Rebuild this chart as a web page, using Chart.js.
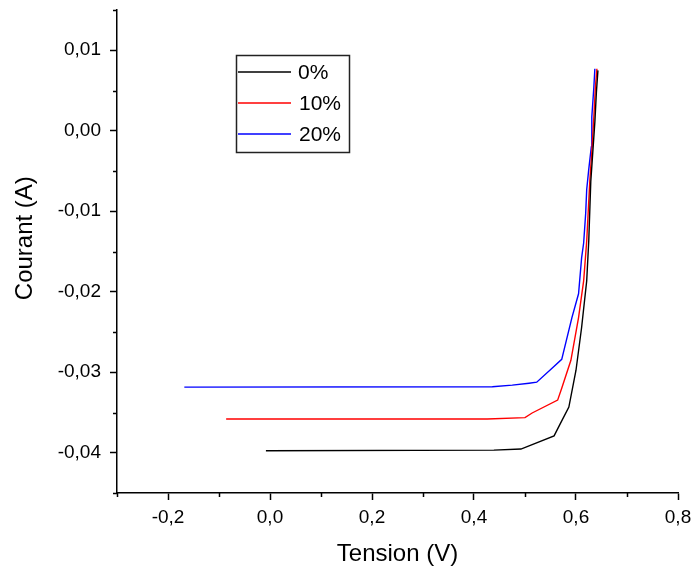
<!DOCTYPE html>
<html>
<head>
<meta charset="utf-8">
<script src="https://cdn.jsdelivr.net/npm/chart.js@4.4.0/dist/chart.umd.min.js"></script>
<style>
  html, body { margin: 0; padding: 0; background: #fff; }
  #wrap { width: 691px; height: 571px; }
</style>
</head>
<body>
<div id="wrap"><canvas id="myChart" width="691" height="571"></canvas></div>
<script>
// I-V curves, voltage (V) / current (A)
const labels = ['0%', '10%', '20%'];
const colors = ['#000000', '#ff0000', '#0000ff'];

const v0 = [-0.008, 0.439, 0.492, 0.557, 0.568, 0.586, 0.600, 0.611, 0.621, 0.625, 0.629, 0.633, 0.637, 0.640, 0.643];
const i0 = [-0.03975, -0.03967, -0.03954, -0.0379, -0.03654, -0.03432, -0.02975, -0.02444, -0.01864, -0.0137, -0.0063, -0.0026, 0.0011, 0.0048, 0.0075];

const v10 = [-0.086, 0.426, 0.500, 0.514, 0.564, 0.572, 0.590, 0.605, 0.615, 0.621, 0.627, 0.631, 0.635, 0.638, 0.641];
const i10 = [-0.0358, -0.0358, -0.03564, -0.03506, -0.03346, -0.03198, -0.02852, -0.02321, -0.01864, -0.0137, -0.0063, -0.0026, 0.0017, 0.0054, 0.0077];

const v20 = [-0.168, 0.436, 0.475, 0.508, 0.523, 0.553, 0.572, 0.592, 0.605, 0.611, 0.615, 0.619, 0.621, 0.625, 0.630, 0.631, 0.635, 0.637];
const i20 = [-0.03185, -0.03181, -0.0316, -0.03136, -0.03123, -0.0295, -0.0284, -0.02321, -0.02025, -0.0158, -0.01395, -0.01025, -0.0073, -0.0048, -0.002, 0.0017, 0.0054, 0.0077];

const xTicks = [-0.2, 0.0, 0.2, 0.4, 0.6, 0.8];
const xTickLabels = ['-0,2', '0,0', '0,2', '0,4', '0,6', '0,8'];
const yTicks = [-0.04, -0.03, -0.02, -0.01, 0.00, 0.01];
const yTickLabels = ['-0,04', '-0,03', '-0,02', '-0,01', '0,00', '0,01'];

function toPoints(xs, ys) {
  return xs.map((x, k) => ({x: x, y: ys[k]}));
}

const series = [toPoints(v0, i0), toPoints(v10, i10), toPoints(v20, i20)];

// minor ticks + legend box
const extras = {
  id: 'extras',
  afterDraw(chart) {
    const ctx = chart.ctx;
    const xs = chart.scales.x, ys = chart.scales.y;
    const a = chart.chartArea;
    ctx.save();
    ctx.strokeStyle = '#000';
    ctx.lineWidth = 1.5;
    ctx.beginPath();
    for (let k = -3; k <= 8; k++) {
      if (k % 2 === 0) continue;
      const px = Math.round(xs.getPixelForValue(k / 10)) + 0.5;
      ctx.moveTo(px, a.bottom);
      ctx.lineTo(px, a.bottom + 4);
    }
    for (let k = -9; k <= 3; k++) {
      if (k % 2 === 0) continue;
      const py = Math.round(ys.getPixelForValue(k * 0.005)) + 0.5;
      ctx.moveTo(a.left, py);
      ctx.lineTo(a.left - 4, py);
    }
    ctx.stroke();

    // legend
    const lx = 236, ly = 55, lw = 113, lh = 97;
    ctx.lineWidth = 1.5;
    ctx.strokeStyle = '#222';
    ctx.strokeRect(lx + 0.5, ly + 0.5, lw, lh);
    ctx.font = '21px "Liberation Sans", Arial, sans-serif';
    ctx.textBaseline = 'middle';
    chart.data.datasets.forEach((ds, k) => {
      const yy = 72 + k * 31;
      ctx.strokeStyle = ds.borderColor;
      ctx.lineWidth = 1.5;
      ctx.beginPath();
      ctx.moveTo(238, yy);
      ctx.lineTo(291, yy);
      ctx.stroke();
      ctx.fillStyle = '#000';
      ctx.fillText(ds.label, k === 0 ? 298 : 299, yy + 1);
    });
    ctx.restore();
  }
};

const myChart = document.getElementById('myChart');

new Chart(myChart, {
  type: 'line',
  data: {
    datasets: series.map((pts, k) => ({
      label: labels[k],
      data: pts,
      borderColor: colors[k],
      backgroundColor: colors[k],
      borderWidth: 1.4,
      pointRadius: 0,
      tension: 0,
      fill: false
    }))
  },
  options: {
    responsive: false,
    animation: false,
    layout: { padding: { top: 10, right: 13, left: 0, bottom: 0 } },
    plugins: { legend: { display: false }, tooltip: { enabled: false } },
    scales: {
      x: {
        type: 'linear',
        min: -0.3,
        max: 0.8,
        afterFit: s => { s.height = 78; s.paddingLeft = 0; s.paddingRight = 0; },
        afterBuildTicks: s => { s.ticks = xTicks.map(v => ({value: v})); },
        grid: { drawOnChartArea: false, drawTicks: true, tickLength: 7, tickColor: '#000', tickWidth: 1.5 },
        border: { color: '#000', width: 1.5 },
        ticks: {
          color: '#000',
          font: { family: '"Liberation Sans", Arial, sans-serif', size: 19 },
          padding: 6,
          maxRotation: 0,
          autoSkip: false,
          callback: (v, idx) => xTickLabels[idx]
        },
        title: {
          display: true,
          text: 'Tension (V)',
          color: '#000',
          font: { family: '"Liberation Sans", Arial, sans-serif', size: 24 },
          padding: { top: 0, bottom: 2 }
        }
      },
      y: {
        type: 'linear',
        min: -0.045,
        max: 0.015,
        afterFit: s => { s.width = 117; s.paddingTop = 0; s.paddingBottom = 0; },
        afterBuildTicks: s => { s.ticks = yTicks.map(v => ({value: v})); },
        grid: { drawOnChartArea: false, drawTicks: true, tickLength: 7, tickColor: '#000', tickWidth: 1.5 },
        border: { color: '#000', width: 1.5 },
        ticks: {
          color: '#000',
          font: { family: '"Liberation Sans", Arial, sans-serif', size: 19 },
          padding: 9,
          autoSkip: false,
          callback: (v, idx) => yTickLabels[idx]
        },
        title: {
          display: true,
          text: '    Courant (A)',
          color: '#000',
          font: { family: '"Liberation Sans", Arial, sans-serif', size: 24 },
          padding: { top: 11, bottom: 0 }
        }
      }
    }
  },
  plugins: [extras]
});
</script>
</body>
</html>
